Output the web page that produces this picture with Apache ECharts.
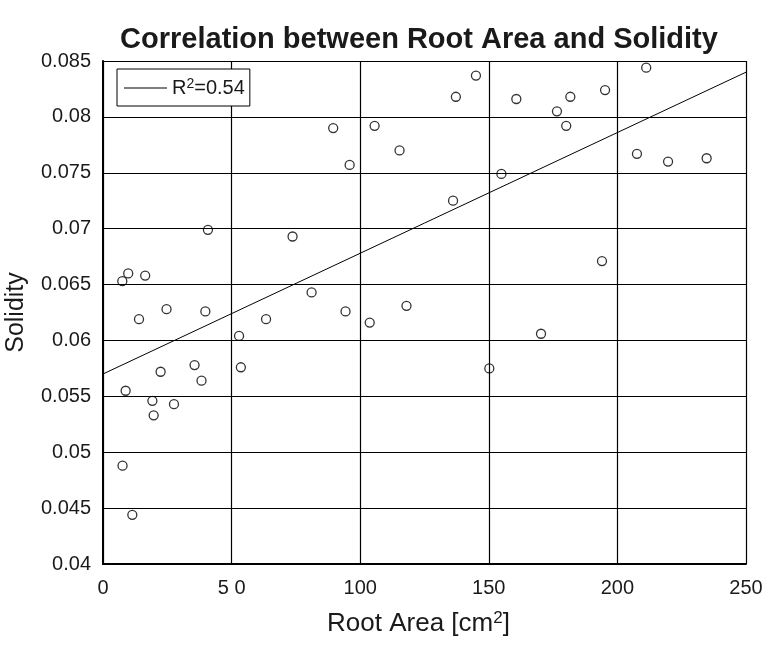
<!DOCTYPE html>
<html>
<head>
<meta charset="utf-8">
<script src="https://cdn.jsdelivr.net/npm/echarts@6/dist/echarts.min.js"></script>
<style>html,body{margin:0;padding:0;background:#fff}#c{width:764px;height:646px}</style>
</head>
<body>
<div id="c"></div>
<script>
var rootArea = [7.5, 9.8, 16.4, 14.0, 24.7, 39.8, 40.8, 52.9, 63.4, 53.6, 22.4, 35.6, 38.3, 8.8, 19.2, 27.6, 19.7, 7.6, 11.4, 73.7, 81.1, 89.5, 95.9, 94.3, 105.6, 103.7, 115.3, 118.0, 136.1, 137.2, 145.0, 160.7, 181.7, 176.5, 180.1, 195.2, 154.9, 194.0, 170.3, 150.2, 211.2, 207.6, 219.7, 234.7];
var solidity = [0.0653, 0.0660, 0.0658, 0.0619, 0.0628, 0.0626, 0.0699, 0.0604, 0.0619, 0.0576, 0.0572, 0.0578, 0.0564, 0.0555, 0.0546, 0.0543, 0.0533, 0.0488, 0.0444, 0.0693, 0.0643, 0.0790, 0.0757, 0.0626, 0.0792, 0.0616, 0.0770, 0.0631, 0.0725, 0.0818, 0.0837, 0.0816, 0.0818, 0.0805, 0.0792, 0.0824, 0.0749, 0.0671, 0.0606, 0.0575, 0.0844, 0.0767, 0.0760, 0.0763];
var fitX = [0, 250];
var fitY = [0.0570, 0.0840];
var xTickLabels = ['0', '5 0', '100', '150', '200', '250'];
var yTickLabels = ['0.04', '0.045', '0.05', '0.055', '0.06', '0.065', '0.07', '0.075', '0.08', '0.085'];
var fitName = 'R2=0.54';

var FONT = 'Liberation Sans';
var pts = rootArea.map(function (x, i) { return [x, solidity[i]]; });
var line = fitX.map(function (x, i) { return [x, fitY[i]]; });

var chart = echarts.init(document.getElementById('c'), null, {renderer: 'canvas'});
chart.setOption({
  backgroundColor: '#fff',
  animation: false,
  title: {
    text: 'Correlation between Root Area and Solidity',
    left: 414, top: 20, textAlign: 'center',
    textStyle: {fontFamily: FONT, fontWeight: 'bold', fontSize: 29, color: '#1a1a1a'}
  },
  legend: {
    data: [{name: fitName, icon: 'rect'}],
    left: 117, top: 69,
    padding: [8, 5, 8, 7],
    itemWidth: 43, itemHeight: 1, itemGap: 5,
    borderColor: '#000', borderWidth: 1, backgroundColor: '#fff',
    formatter: function () { return '{n|R}{s|2}{n|=0.54}'; },
    textStyle: {
      fontFamily: FONT, fontSize: 20, color: '#1a1a1a',
      rich: {
        n: {fontFamily: FONT, fontSize: 20, color: '#1a1a1a', lineHeight: 22},
        s: {fontFamily: FONT, fontSize: 14, color: '#1a1a1a', verticalAlign: 'top', lineHeight: 12}
      }
    }
  },
  grid: {left: 103, right: 18, top: 61, bottom: 82, containLabel: false, outerBoundsMode: 'none'},
  xAxis: {
    type: 'value', min: 0, max: 250, interval: 50,
    name: '{n|Root Area [cm}{s|2}{n|]}', nameLocation: 'middle', nameGap: 46,
    nameTextStyle: {
      fontFamily: FONT, fontSize: 26, color: '#1a1a1a',
      padding: [0, 12, 0, 0],
      rich: {
        n: {fontFamily: FONT, fontSize: 26, color: '#1a1a1a', lineHeight: 28},
        s: {fontFamily: FONT, fontSize: 17, color: '#1a1a1a', verticalAlign: 'top', lineHeight: 17}
      }
    },
    axisLine: {show: true, lineStyle: {color: '#000', width: 2}},
    axisTick: {show: false},
    axisLabel: {
      margin: 14, fontFamily: FONT, fontSize: 20, color: '#1a1a1a',
      formatter: function (v) { return xTickLabels[Math.round(v / 50)]; }
    },
    splitLine: {show: true, lineStyle: {color: '#000', width: 1.2}}
  },
  yAxis: {
    type: 'value', min: 0.04, max: 0.085, interval: 0.005,
    name: 'Solidity', nameLocation: 'middle', nameGap: 74,
    nameTextStyle: {fontFamily: FONT, fontSize: 25, color: '#1a1a1a'},
    axisLine: {show: true, lineStyle: {color: '#000', width: 2}},
    axisTick: {show: false},
    axisLabel: {
      margin: 12, fontFamily: FONT, fontSize: 20, color: '#1a1a1a',
      formatter: function (v) { return yTickLabels[Math.round((v - 0.04) / 0.005)]; }
    },
    splitLine: {show: true, lineStyle: {color: '#000', width: 1.2}}
  },
  series: [
    {
      type: 'scatter', name: 'data', data: pts,
      symbol: 'circle', symbolSize: 9,
      itemStyle: {color: 'rgba(0,0,0,0)', borderColor: '#000', borderWidth: 1.3},
      z: 3
    },
    {
      type: 'line', name: fitName, data: line,
      symbol: 'none', showSymbol: false,
      lineStyle: {color: '#000', width: 1},
      itemStyle: {color: '#000'},
      z: 4
    }
  ]
});
</script>
</body>
</html>
